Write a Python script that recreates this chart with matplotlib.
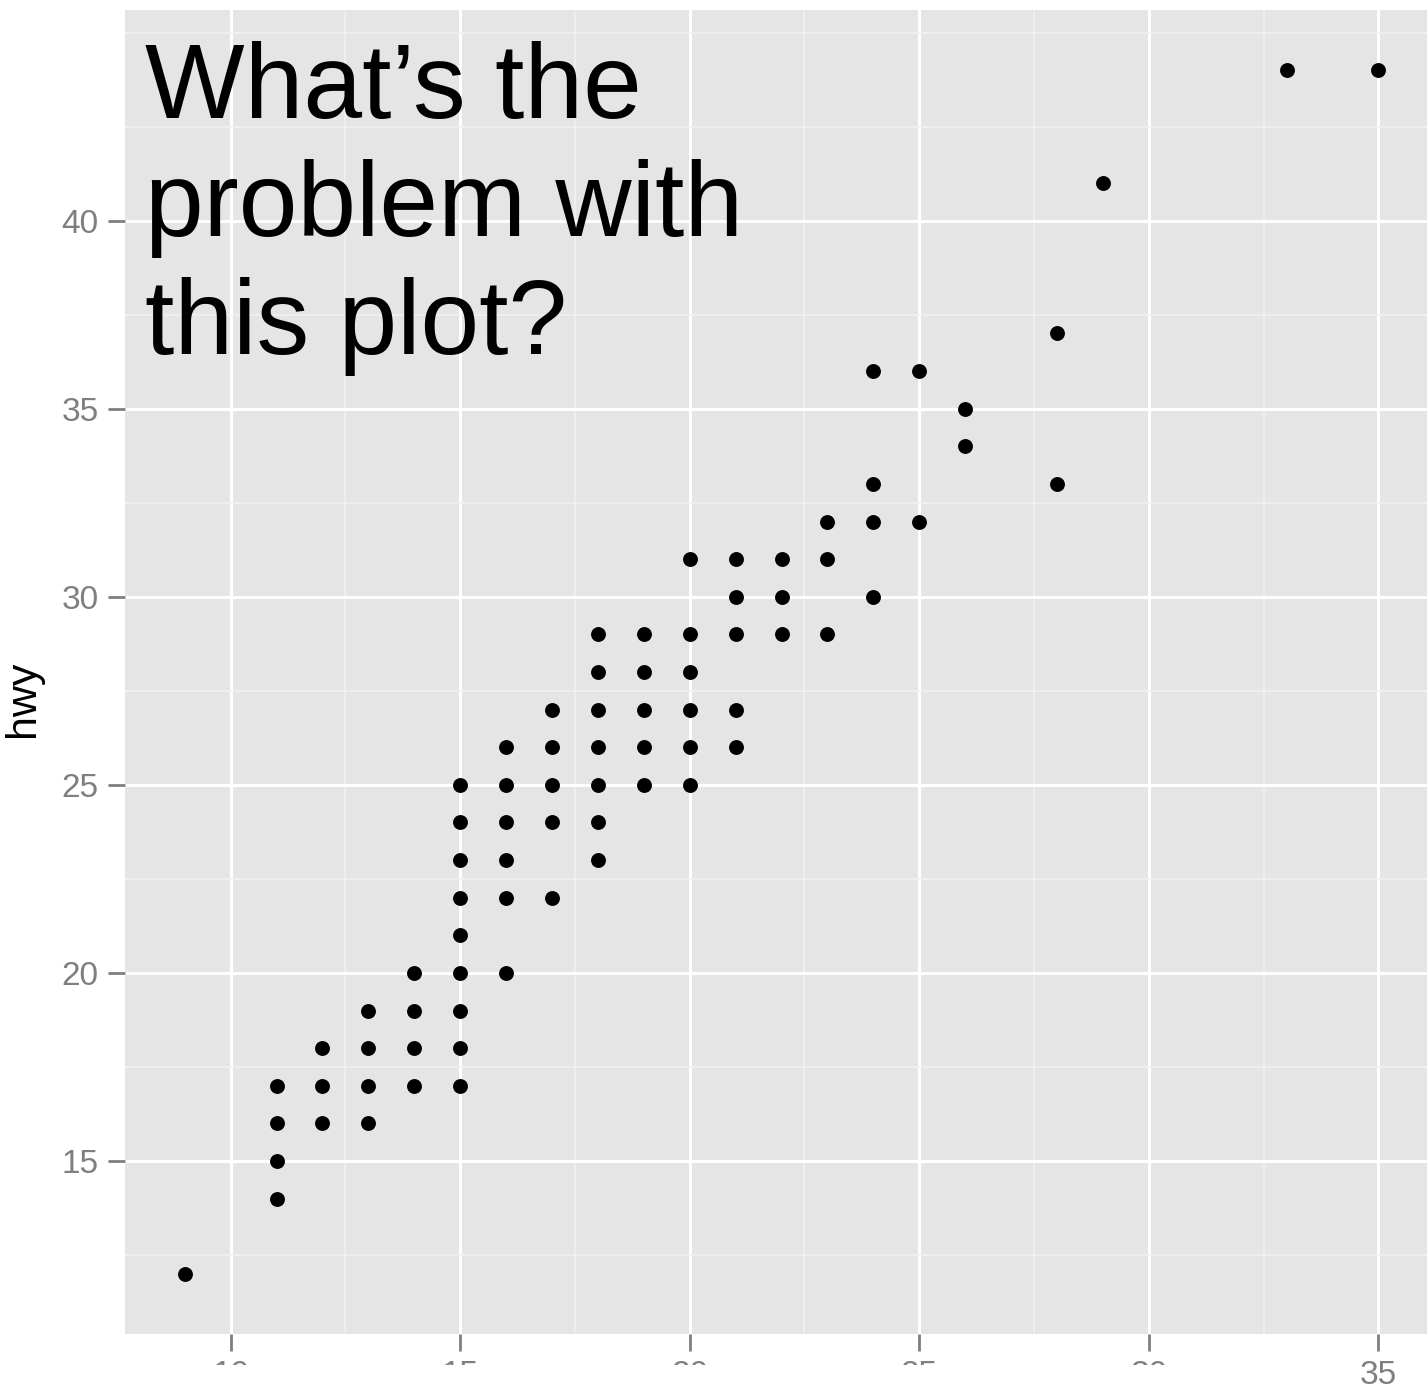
import matplotlib.pyplot as plt
from matplotlib.patches import Rectangle

# city vs highway mileage, unique points
cty = [9,
       11, 11, 11, 11,
       12, 12, 12,
       13, 13, 13, 13,
       14, 14, 14, 14,
       15, 15, 15, 15, 15, 15, 15, 15, 15,
       16, 16, 16, 16, 16, 16,
       17, 17, 17, 17, 17,
       18, 18, 18, 18, 18, 18, 18,
       19, 19, 19, 19, 19,
       20, 20, 20, 20, 20, 20,
       21, 21, 21, 21, 21,
       22, 22, 22,
       23, 23, 23,
       24, 24, 24, 24,
       25, 25,
       26, 26,
       28, 28,
       29,
       33,
       35]
hwy = [12,
       14, 15, 16, 17,
       16, 17, 18,
       16, 17, 18, 19,
       17, 18, 19, 20,
       17, 18, 19, 20, 21, 22, 23, 24, 25,
       20, 22, 23, 24, 25, 26,
       22, 24, 25, 26, 27,
       23, 24, 25, 26, 27, 28, 29,
       25, 26, 27, 28, 29,
       25, 26, 27, 28, 29, 31,
       26, 27, 29, 30, 31,
       29, 30, 31,
       29, 31, 32,
       30, 32, 33, 36,
       32, 36,
       34, 35,
       33, 37,
       41,
       44,
       44]

x_major = [10, 15, 20, 25, 30, 35]
x_minor = [12.5, 17.5, 22.5, 27.5, 32.5]
y_major = [15, 20, 25, 30, 35, 40]
y_minor = [12.5, 17.5, 22.5, 27.5, 32.5, 37.5, 42.5, 45]

W, H = 1427, 1389
fig = plt.figure(figsize=(W / 100, H / 100), dpi=100)
ax = fig.add_axes([125 / W, 1 - 1334 / H, 1313 / W, 1324 / H])

ax.set_facecolor('#E5E5E5')
for s in ax.spines.values():
    s.set_visible(False)

ax.set_xlim(7.7, 36.3)
ax.set_ylim(10.4, 45.6)
ax.set_xticks(x_major)
ax.set_xticks(x_minor, minor=True)
ax.set_yticks(y_major)
ax.set_yticks(y_minor, minor=True)

ax.grid(which='major', color='white', linewidth=2.2)
ax.grid(which='minor', color='#F2F2F2', linewidth=1.1)
ax.set_axisbelow(True)

ax.tick_params(which='major', length=12, width=2, color='#7F7F7F',
               labelsize=24, labelcolor='#7F7F7F', pad=7)
ax.tick_params(which='minor', length=0)
for lab in ax.get_xticklabels() + ax.get_yticklabels():
    lab.set_fontname('Liberation Sans')

ax.scatter(cty, hwy, s=115, color='black', linewidths=0, zorder=3)

ax.set_ylabel('hwy', fontsize=31, fontname='Liberation Sans')
ax.yaxis.set_label_coords(-0.0625, 0.48)

fig.text(145 / W, 1 - 41 / H, "What\u2019s the\nproblem with\nthis plot?",
         fontsize=76, fontname='Liberation Sans', color='black',
         va='top', ha='left', linespacing=1.25)

# the bottom strip of the slide hides most x labels
fig.add_artist(Rectangle((0, 0), 1352 / W, 24 / H, transform=fig.transFigure,
                         facecolor='white', edgecolor='none', zorder=10))

fig.savefig('out.png', dpi=100)
